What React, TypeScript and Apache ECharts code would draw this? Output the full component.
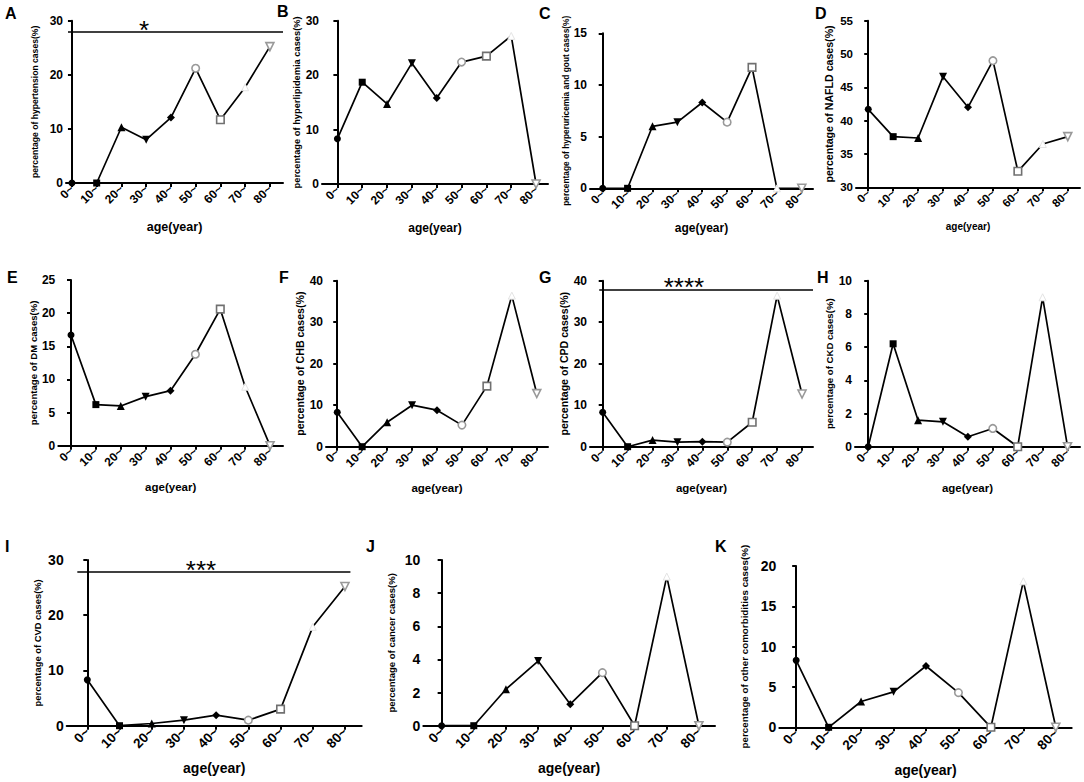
import React, { useEffect, useRef } from "react";
import * as echarts from "echarts";

// ---------- data ----------
const ages = ["0~", "10~", "20~", "30~", "40~", "50~", "60~", "70~", "80~"];
const hypertension = [0, 0, 10.3, 8.0, 12.1, 21.2, 11.7, 17.7, 25.2];
const hyperlipidemia = [8.3, 18.7, 14.7, 22.2, 15.8, 22.4, 23.5, 27.2, 0];
const hyperuricemia = [0, 0, 6.0, 6.4, 8.3, 6.4, 11.7, 0, 0];
const nafld = [41.7, 37.6, 37.4, 46.6, 42.0, 49.0, 32.4, 36.5, 37.6];
const dm = [16.7, 6.2, 6.0, 7.4, 8.3, 13.8, 20.6, 8.9, 0];
const chb = [8.3, 0, 5.9, 10.0, 8.8, 5.2, 14.6, 36.4, 12.8];
const cpd = [8.3, 0, 1.6, 1.1, 1.2, 1.1, 5.9, 36.4, 12.7];
const ckd = [0, 6.2, 1.6, 1.5, 0.6, 1.1, 0, 9.0, 0];
const cvd = [8.3, 0, 0.4, 1.0, 1.9, 1.0, 3.0, 17.9, 25.2];
const cancer = [0, 0, 2.2, 3.9, 1.3, 3.2, 0, 9.0, 0];
const otherComorb = [8.3, 0, 3.2, 4.4, 7.6, 4.3, 0, 18.1, 0];

const letters = ["A", "B", "C", "D", "E", "F", "G", "H", "I", "J", "K"];
const yTitles = [
  "percentage of hypertension cases(%)",
  "percentage of hyperlipidemia cases(%)",
  "percentage of hyperuricemia and gout cases(%)",
  "percentage of NAFLD cases(%)",
  "percentage of DM cases(%)",
  "percentage of CHB cases(%)",
  "percentage of CPD cases(%)",
  "percentage of CKD cases(%)",
  "percentage of CVD cases(%)",
  "percentage of cancer cases(%)",
  "percentage of other comorbidities cases(%)",
];
const seriesValues = [hypertension, hyperlipidemia, hyperuricemia, nafld, dm, chb, cpd, ckd, cvd, cancer, otherComorb];
const yMins = [0, 0, 0, 30, 0, 0, 0, 0, 0, 0, 0];
const yMaxs = [30, 30, 15, 55, 25, 40, 40, 10, 30, 10, 20];
const yIntervals = [10, 10, 5, 5, 5, 10, 10, 2, 10, 2, 5];
// significance annotations: panel index, level, stars
const sigPanels = [0, 6, 8];
const sigLevels = [28, 37.9, 27.8];
const sigStars = ["*", "****", "***"];

// ---------- layout ----------
const FONT = "Liberation Sans, Arial, Helvetica, sans-serif";
const layouts = [
  { L: 66, R: 283, T: 20.7, B: 183, xMin: -0.24, xMax: 8.53, yFs: 12, xFs: 12, nFs: 12.5, nGap: 37, tFs: 8.6, tGap: 26.7, lx: 5, ly: 5 },
  { L: 322, R: 548, T: 20.7, B: 184, xMin: -0.62, xMax: 8.48, yFs: 12, xFs: 12, nFs: 12, nGap: 38, tFs: 9.3, tGap: 15.4, lx: 277, ly: 3 },
  { L: 590, R: 813, T: 33.3, B: 188.3, xMin: -0.51, xMax: 8.45, yFs: 12, xFs: 12, nFs: 12, nGap: 34, tFs: 8.35, tGap: 19.8, lx: 539, ly: 5 },
  { L: 856, R: 1080, T: 20.7, B: 187.3, xMin: -0.49, xMax: 8.49, yFs: 11.5, xFs: 11.5, nFs: 10, nGap: 34, tFs: 10.6, tGap: 21.7, lx: 815, ly: 5 },
  { L: 58.3, R: 283, T: 280, B: 445.7, xMin: -0.51, xMax: 8.52, yFs: 12, xFs: 12, nFs: 11.5, nGap: 35, tFs: 9.6, tGap: 20.2, lx: 7, ly: 269 },
  { L: 326, R: 548, T: 280.7, B: 446.7, xMin: -0.45, xMax: 8.45, yFs: 12, xFs: 12, nFs: 11.5, nGap: 35, tFs: 10.6, tGap: 19.2, lx: 279, ly: 269 },
  { L: 590, R: 813, T: 280.7, B: 446.7, xMin: -0.51, xMax: 8.44, yFs: 12, xFs: 12, nFs: 11.5, nGap: 35, tFs: 10.6, tGap: 18.6, lx: 539, ly: 269 },
  { L: 855, R: 1080, T: 280.7, B: 446.7, xMin: -0.53, xMax: 8.5, yFs: 12, xFs: 12, nFs: 11.5, nGap: 35, tFs: 9.6, tGap: 17.2, lx: 817, ly: 269 },
  { L: 66.7, R: 361.7, T: 560, B: 725.7, xMin: -0.64, xMax: 8.52, yFs: 14, xFs: 13.5, nFs: 14, nGap: 35, tFs: 9.4, tGap: 24.3, lx: 5, ly: 538 },
  { L: 423.3, R: 715, T: 560, B: 725.7, xMin: -0.57, xMax: 8.5, yFs: 14, xFs: 13.5, nFs: 14, nGap: 35, tFs: 9.5, tGap: 27.2, lx: 366, ly: 538 },
  { L: 779.3, R: 1071.7, T: 566, B: 727.3, xMin: -0.52, xMax: 8.49, yFs: 14, xFs: 13.5, nFs: 14, nGap: 36, tFs: 9.8, tGap: 30.1, lx: 715, ly: 538 },
];
const sigLayouts = [
  { x1: -0.16, x2: 8.53, sx: 2.91 },
  { x1: -0.14, x2: 8.44, sx: 3.26 },
  { x1: -0.31, x2: 8.17, sx: 3.53 },
];

const INV_TRI = "path://M0 0L10 0L5 9Z";
const markerStyles = [
  { symbol: "circle", size: 7, fill: "#000", stroke: "#000", bw: 0 },
  { symbol: "rect", size: 7, fill: "#000", stroke: "#000", bw: 0 },
  { symbol: "triangle", size: 8, fill: "#000", stroke: "#000", bw: 0 },
  { symbol: INV_TRI, size: 8, fill: "#000", stroke: "#000", bw: 0 },
  { symbol: "diamond", size: 8, fill: "#000", stroke: "#000", bw: 0 },
  { symbol: "circle", size: 7.5, fill: "#fff", stroke: "#999", bw: 1.6 },
  { symbol: "rect", size: 7.5, fill: "#fff", stroke: "#707070", bw: 1.6 },
  { symbol: "triangle", size: 7, fill: "#fff", stroke: "#e4e4e4", bw: 1 },
  { symbol: INV_TRI, size: 8, fill: "#fff", stroke: "#999", bw: 1.6 },
];

function buildOption() {
  const grid: any[] = [];
  const xAxis: any[] = [];
  const yAxis: any[] = [];
  const series: any[] = [];
  const graphic: any[] = [];
  const idx = ages.map((_, i) => i);

  layouts.forEach((lay, p) => {
    grid.push({ left: lay.L, top: lay.T, width: lay.R - lay.L, height: lay.B - lay.T, containLabel: false });
    xAxis.push({
      type: "value",
      gridIndex: p,
      min: lay.xMin,
      max: lay.xMax,
      name: "age(year)",
      nameLocation: "middle",
      nameGap: lay.nGap,
      nameTextStyle: { fontFamily: FONT, fontWeight: "bold", fontSize: lay.nFs, color: "#000" },
      splitLine: { show: false },
      axisLine: { show: true, onZero: false, lineStyle: { color: "#000", width: 2 } },
      axisTick: { show: true, length: 4, customValues: idx, lineStyle: { color: "#000", width: 2 } },
      axisLabel: {
        customValues: idx,
        rotate: 45,
        margin: 4,
        fontFamily: FONT,
        fontWeight: "bold",
        fontSize: lay.xFs,
        color: "#000",
        formatter: (v: number) => ages[Math.round(v)],
      },
    });
    yAxis.push({
      type: "value",
      gridIndex: p,
      min: yMins[p],
      max: yMaxs[p],
      interval: yIntervals[p],
      name: yTitles[p],
      nameLocation: "middle",
      nameGap: lay.tGap,
      nameTextStyle: { fontFamily: FONT, fontWeight: "bold", fontSize: lay.tFs, color: "#000" },
      splitLine: { show: false },
      axisLine: { show: true, lineStyle: { color: "#000", width: 2 } },
      axisTick: { show: true, length: 4, lineStyle: { color: "#000", width: 2 } },
      axisLabel: { margin: 3, fontFamily: FONT, fontWeight: "bold", fontSize: lay.yFs, color: "#000" },
    });

    const vals = seriesValues[p];
    const s: any = {
      type: "line",
      xAxisIndex: p,
      yAxisIndex: p,
      clip: false,
      silent: true,
      lineStyle: { color: "#000", width: 1.7 },
      data: vals.map((v, i) => {
        const m = markerStyles[i];
        return {
          value: [i, v],
          symbol: m.symbol,
          symbolSize: m.size,
          itemStyle: { color: m.fill, borderColor: m.stroke, borderWidth: m.bw },
        };
      }),
    };
    const si = sigPanels.indexOf(p);
    if (si >= 0) {
      const sl = sigLayouts[si];
      s.markLine = {
        silent: true,
        symbol: ["none", "none"],
        label: { show: false },
        lineStyle: { color: "#000", width: 1.5, type: "solid" },
        data: [[{ coord: [sl.x1, sigLevels[si]] }, { coord: [sl.x2, sigLevels[si]] }]],
      };
      s.markPoint = {
        silent: true,
        symbol: "circle",
        symbolSize: 1,
        itemStyle: { color: "rgba(0,0,0,0)" },
        label: {
          show: true,
          position: "inside",
          offset: [0, -2],
          formatter: sigStars[si],
          fontFamily: FONT,
          fontSize: 26,
          color: "#000",
        },
        data: [{ coord: [sl.sx, sigLevels[si]] }],
      };
    }
    series.push(s);

    graphic.push({
      type: "text",
      left: lay.lx,
      top: lay.ly,
      style: { text: letters[p], fontFamily: FONT, fontWeight: "bold", fontSize: 16, fill: "#000" },
    });
  });

  return { animation: false, backgroundColor: "#fff", grid, xAxis, yAxis, series, graphic };
}

export default function App() {
  const ref = useRef<HTMLDivElement>(null);
  useEffect(() => {
    if (!ref.current) return;
    const chart = echarts.init(ref.current, undefined, { renderer: "svg" });
    chart.setOption(buildOption() as any);
    return () => chart.dispose();
  }, []);
  return (
    <div
      ref={ref}
      style={{ position: "fixed", left: 0, top: 0, width: 1084, height: 782, background: "#fff" }}
    />
  );
}
